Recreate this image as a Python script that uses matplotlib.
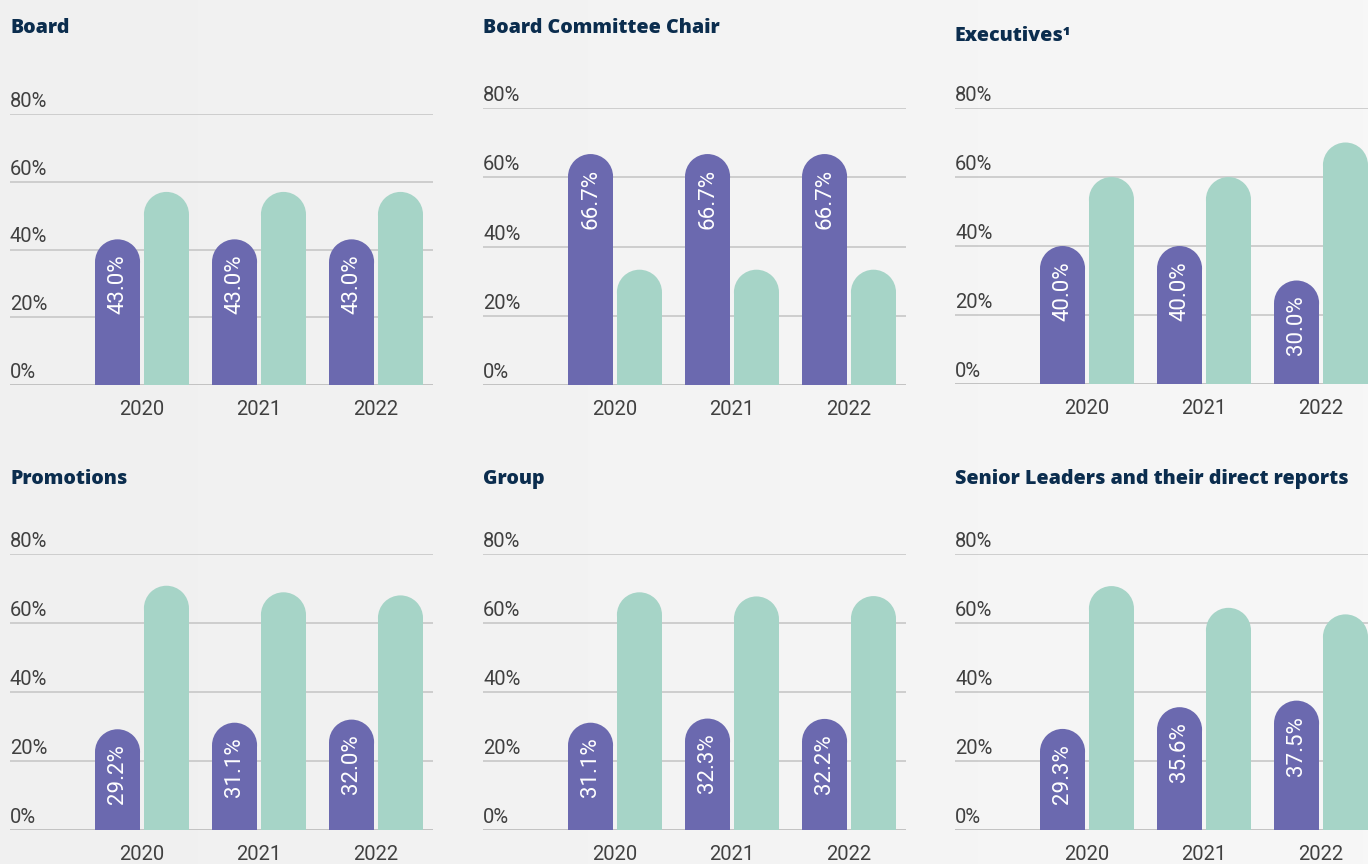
import matplotlib
matplotlib.use("Agg")
import matplotlib.pyplot as plt
import numpy as np
from matplotlib.patches import Ellipse
from matplotlib.colors import LinearSegmentedColormap
import matplotlib.transforms as mtransforms

# ---------------- data ----------------
years = ["2020", "2021", "2022"]
titles = ["Board", "Board Committee Chair", "Executives\u00b9",
          "Promotions", "Group", "Senior Leaders and their direct reports"]
women = [
    [43.0, 43.0, 43.0],
    [66.7, 66.7, 66.7],
    [40.0, 40.0, 30.0],
    [29.2, 31.1, 32.0],
    [31.1, 32.3, 32.2],
    [29.3, 35.6, 37.5],
]
men = [
    [57.0, 57.0, 57.0],
    [33.3, 33.3, 33.3],
    [60.0, 60.0, 70.0],
    [70.8, 68.9, 68.0],
    [68.9, 67.7, 67.8],
    [70.7, 64.4, 62.5],
]
y_ticks = [0, 20, 40, 60, 80]
y_tick_labels = ["0%", "20%", "40%", "60%", "80%"]

# ---------------- style ----------------
W, H = 1368, 864
DPI = 100
PURPLE = "#6B69AF"
MINT = "#A6D4C7"
NAVY = "#0B2D4E"
GREY_TXT = "#404040"
GRID = "#CBCBCB"
TICK_FONT = ["Roboto", "DejaVu Sans"]
TITLE_FONT = ["Open Sans", "DejaVu Sans"]

fig = plt.figure(figsize=(W / DPI, H / DPI), dpi=DPI)
fig.patch.set_facecolor("#F3F3F3")

# subtle horizontal background gradient
bg = fig.add_axes([0, 0, 1, 1], zorder=-10)
grad = np.linspace(0, 1, 256).reshape(1, -1)
cm = LinearSegmentedColormap.from_list("bg", ["#F0F0F0", "#F7F7F7"])
bg.imshow(grad, aspect="auto", cmap=cm, extent=[0, 1, 0, 1])
bg.set_axis_off()

# panel geometry in pixels: (left, y of 0%, y of 80%, title y)
panels = [
    (10, 385, 114, 28),
    (483, 385, 108, 28),
    (955, 384, 108, 36),
    (10, 830, 554, 479),
    (483, 830, 554, 479),
    (955, 830, 554, 479),
]
AX_W = 423
X_LEFT, X_RIGHT = -1.128, 2.487
BAR_W = 0.385
OFF = 0.209
PX2PT = 72.0 / DPI

x = np.arange(len(years))


def rounded_bar(ax, xc, h, w, color, ax_w_px, ax_h_px):
    r_px = w / (X_RIGHT - X_LEFT) * ax_w_px / 2
    r_y = r_px * 80.0 / ax_h_px
    ax.bar(xc, h - r_y, w, color=color, zorder=3, linewidth=0)
    ax.add_patch(Ellipse((xc, h - r_y), w, 2 * r_y, color=color, zorder=3,
                         linewidth=0))


for i, (L, y0, y80, ty) in enumerate(panels):
    ax_h = y0 - y80
    ax = fig.add_axes([L / W, 1 - y0 / H, AX_W / W, ax_h / H])
    ax.set_facecolor("none")
    ax.set_xlim(X_LEFT, X_RIGHT)
    ax.set_ylim(0, 80)
    for s in ax.spines.values():
        s.set_visible(False)
    ax.set_yticks([])
    # gridlines
    for t in y_ticks:
        ax.axhline(t, color="#BEBEBE" if t == 0 else GRID,
                   lw=2.0 if t == 0 else 1.3, zorder=1)
    # y tick labels above lines
    trans = mtransforms.blended_transform_factory(ax.transAxes, ax.transData)
    for t, lab in zip(y_ticks, y_tick_labels):
        ax.annotate(lab, xy=(0, t), xycoords=trans, xytext=(0, 3 * PX2PT),
                    textcoords="offset points", ha="left", va="bottom",
                    fontsize=14.5, color=GREY_TXT, family=TICK_FONT)
    # x tick labels
    ax.set_xticks(x, years)
    ax.tick_params(axis="x", length=0, pad=15 * PX2PT, labelsize=14.5,
                   labelcolor=GREY_TXT)
    for tl in ax.get_xticklabels():
        tl.set_family(TICK_FONT)
    # bars
    for j in range(len(years)):
        rounded_bar(ax, x[j] - OFF, women[i][j], BAR_W, PURPLE, AX_W, ax_h)
        rounded_bar(ax, x[j] + OFF, men[i][j], BAR_W, MINT, AX_W, ax_h)
        ax.annotate(f"{women[i][j]:.1f}%", xy=(x[j] - OFF, women[i][j]),
                    xytext=(0, -15 * PX2PT), textcoords="offset points",
                    rotation=90, ha="center", va="top", color="white",
                    fontsize=16, family=TICK_FONT, zorder=5)
    # title
    fig.text(L / W, 1 - ty / H, titles[i], ha="left", va="center",
             fontsize=14.1, fontweight="heavy", color=NAVY, family=TITLE_FONT)

fig.savefig("out.png", dpi=DPI, facecolor=fig.get_facecolor())
